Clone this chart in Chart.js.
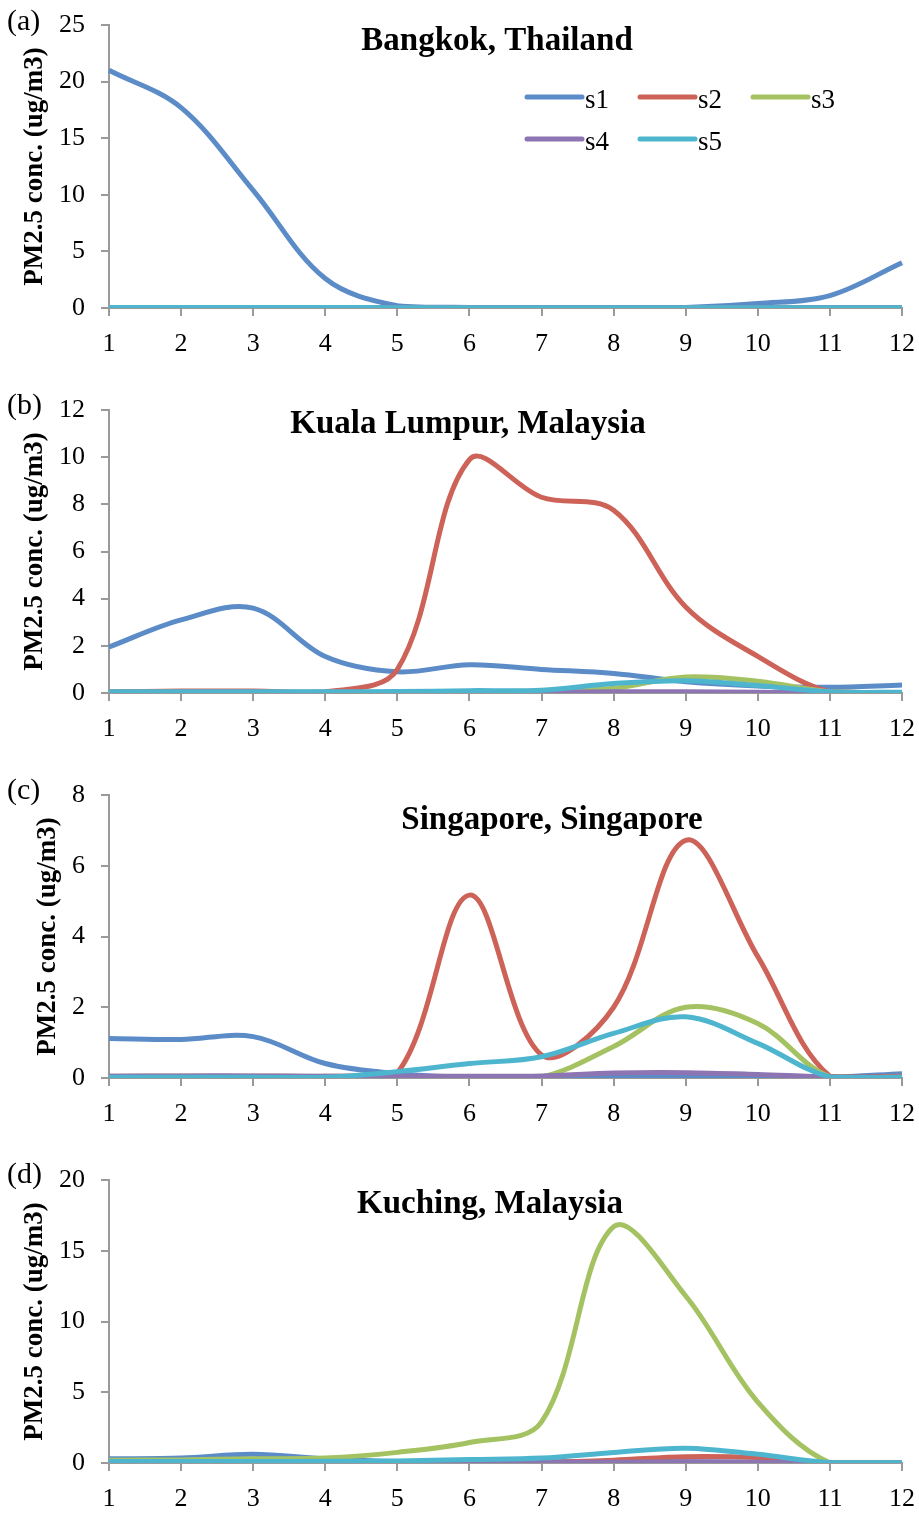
<!DOCTYPE html>
<html lang="en">
<head>
  <meta charset="UTF-8">
  <title>PM2.5 conc. by source</title>
  <script src="https://cdn.jsdelivr.net/npm/chart.js"></script>
  <style>
    body { margin: 0; background: #fff; }
    .panel { position: absolute; left: 0; width: 919px; height: 385px; }
  </style>
</head>
<body>
  <div class="panel" style="top:0px"><canvas id="c0" width="919" height="385"></canvas></div>
  <div class="panel" style="top:385px"><canvas id="c1" width="919" height="385"></canvas></div>
  <div class="panel" style="top:770px"><canvas id="c2" width="919" height="385"></canvas></div>
  <div class="panel" style="top:1155px"><canvas id="c3" width="919" height="385"></canvas></div>

  <script>
    // months on the x axis
    const months = [1, 2, 3, 4, 5, 6, 7, 8, 9, 10, 11, 12];
    const seriesNames = ['s1', 's2', 's3', 's4', 's5'];
    const seriesColors = ['#5B8CC8', '#CD6258', '#A5C262', '#8D74B2', '#4EB5CF'];

    // (a) Bangkok
    const bkkS1 = [21.0, 17.7, 10.4, 2.6, 0.2, 0.05, 0.05, 0.05, 0.05, 0.4, 1.1, 4.0];
    const bkkS2 = [0.05, 0.05, 0.05, 0.05, 0.03, 0.02, 0.02, 0.02, 0.02, 0.02, 0.02, 0.02];
    const bkkS3 = [0.02, 0.02, 0.02, 0.02, 0.02, 0.02, 0.02, 0.02, 0.02, 0.02, 0.02, 0.02];
    const bkkS4 = [0.02, 0.02, 0.02, 0.02, 0.02, 0.02, 0.02, 0.02, 0.02, 0.02, 0.02, 0.02];
    const bkkS5 = [0.05, 0.05, 0.05, 0.05, 0.03, 0.03, 0.03, 0.03, 0.03, 0.03, 0.03, 0.03];

    // (b) Kuala Lumpur
    const klS1 = [1.95, 3.1, 3.6, 1.55, 0.9, 1.2, 1.0, 0.83, 0.48, 0.3, 0.24, 0.34];
    const klS2 = [0.05, 0.08, 0.08, 0.05, 1.0, 9.9, 8.3, 7.75, 3.65, 1.55, 0.05, 0.02];
    const klS3 = [0.02, 0.02, 0.02, 0.02, 0.02, 0.05, 0.08, 0.2, 0.68, 0.5, 0.05, 0.02];
    const klS4 = [0.02, 0.02, 0.02, 0.02, 0.02, 0.02, 0.03, 0.05, 0.05, 0.03, 0.02, 0.02];
    const klS5 = [0.05, 0.05, 0.05, 0.05, 0.06, 0.1, 0.12, 0.4, 0.52, 0.32, 0.05, 0.03];

    // (c) Singapore
    const sgS1 = [1.12, 1.09, 1.17, 0.41, 0.12, 0.02, 0.02, 0.02, 0.02, 0.02, 0.02, 0.12];
    const sgS2 = [0.05, 0.05, 0.05, 0.05, 0.15, 5.17, 0.65, 2.0, 6.72, 3.43, 0.05, 0.05];
    const sgS3 = [0.02, 0.02, 0.02, 0.02, 0.02, 0.02, 0.03, 0.89, 2.0, 1.54, 0.03, 0.02];
    const sgS4 = [0.05, 0.06, 0.06, 0.05, 0.05, 0.05, 0.06, 0.14, 0.15, 0.1, 0.03, 0.02];
    const sgS5 = [0.02, 0.02, 0.02, 0.02, 0.18, 0.41, 0.6, 1.26, 1.73, 0.98, 0.03, 0.02];

    // (d) Kuching
    const kchS1 = [0.3, 0.35, 0.62, 0.3, 0.1, 0.08, 0.08, 0.08, 0.08, 0.05, 0.02, 0.02];
    const kchS2 = [0.02, 0.02, 0.02, 0.02, 0.02, 0.02, 0.05, 0.2, 0.45, 0.38, 0.02, 0.02];
    const kchS3 = [0.2, 0.22, 0.3, 0.35, 0.75, 1.45, 2.9, 16.7, 11.8, 4.3, 0.02, 0.02];
    const kchS4 = [0.03, 0.03, 0.03, 0.03, 0.03, 0.04, 0.05, 0.06, 0.08, 0.06, 0.02, 0.02];
    const kchS5 = [0.1, 0.1, 0.1, 0.12, 0.15, 0.25, 0.35, 0.75, 1.05, 0.62, 0.03, 0.02];

    const panelTags = ['(a)', '(b)', '(c)', '(d)'];
    const panelTitles = ['Bangkok, Thailand', 'Kuala Lumpur, Malaysia', 'Singapore, Singapore', 'Kuching, Malaysia'];
    const yMaxes = [25, 12, 8, 20];
    const ySteps = [5, 2, 2, 5];
    const panelSeries = [
      [bkkS1, bkkS2, bkkS3, bkkS4, bkkS5],
      [klS1, klS2, klS3, klS4, klS5],
      [sgS1, sgS2, sgS3, sgS4, sgS5],
      [kchS1, kchS2, kchS3, kchS4, kchS5]
    ];

    // where the text bits sit on each panel
    const layout = [
      { titleX: 497, titleY: 50, yTitlePad: 19, tagY: 22 },
      { titleX: 468, titleY: 48, yTitlePad: 19, tagY: 21 },
      { titleX: 552, titleY: 59, yTitlePad: 32, tagY: 21 },
      { titleX: 490, titleY: 58, yTitlePad: 19, tagY: 20 }
    ];

    const serif = "'Liberation Serif', 'Times New Roman', serif";
    const axisGray = '#9A9A9A';

    // draws tag, in-plot title and (optionally) the legend
    const panelText = {
      id: 'panelText',
      afterDraw(chart, args, opts) {
        const ctx = chart.ctx;
        ctx.save();
        ctx.fillStyle = '#000';
        ctx.textBaseline = 'middle';
        ctx.textAlign = 'left';
        ctx.font = '30px ' + serif;
        ctx.fillText(opts.tag, 7, opts.tagY);

        ctx.font = 'bold 33px ' + serif;
        ctx.textAlign = 'center';
        ctx.textBaseline = 'alphabetic';
        ctx.fillText(opts.title, opts.titleX, opts.titleY);

        if (opts.legend) {
          ctx.font = '27px ' + serif;
          ctx.textAlign = 'left';
          ctx.textBaseline = 'alphabetic';
          chart.data.datasets.forEach((ds, i) => {
            const col = i % 3, row = Math.floor(i / 3);
            const x = 527 + col * 113;
            const y = 97 + row * 42;
            ctx.strokeStyle = ds.borderColor;
            ctx.lineWidth = 5;
            ctx.lineCap = 'round';
            ctx.beginPath();
            ctx.moveTo(x, y);
            ctx.lineTo(x + 55, y);
            ctx.stroke();
            ctx.fillText(ds.label, x + 58, y + 11);
          });
        }
        ctx.restore();
      }
    };

    panelSeries.forEach((series, p) => {
      const ctx = document.getElementById('c' + p).getContext('2d');
      new Chart(ctx, {
        type: 'line',
        data: {
          labels: months,
          datasets: series.map((vals, i) => ({
            label: seriesNames[i],
            data: vals,
            borderColor: seriesColors[i],
            backgroundColor: seriesColors[i],
            borderWidth: 5,
            pointRadius: 0,
            tension: 0.35,
            borderJoinStyle: 'round',
            order: series.length - i, // later series drawn on top
            fill: false
          }))
        },
        options: {
          responsive: false,
          animation: false,
          layout: { padding: { top: 25, right: 17, left: 0, bottom: 0 } },
          plugins: {
            legend: { display: false },
            tooltip: { enabled: false },
            panelText: {
              tag: panelTags[p],
              title: panelTitles[p],
              legend: p === 0,
              ...layout[p]
            }
          },
          scales: {
            x: {
              offset: false,
              grid: { drawOnChartArea: false, drawTicks: true, tickLength: 8, color: axisGray, lineWidth: 2 },
              border: { color: axisGray, width: 2 },
              ticks: { color: '#000', font: { family: serif, size: 26 }, padding: 13, maxRotation: 0, autoSkip: false },
              afterFit(scale) {
                scale.height = 77;
                scale.paddingLeft = 0;
                scale.paddingRight = 0;
              }
            },
            y: {
              min: 0,
              max: yMaxes[p],
              grid: { drawOnChartArea: false, drawTicks: true, tickLength: 8, color: axisGray, lineWidth: 2 },
              border: { color: axisGray, width: 2 },
              ticks: { stepSize: ySteps[p], color: '#000', font: { family: serif, size: 26 }, padding: 16 },
              title: {
                display: true,
                text: 'PM2.5 conc. (ug/m3)',
                color: '#000',
                font: { family: serif, size: 27, weight: 'bold' },
                padding: { top: layout[p].yTitlePad, bottom: 0 }
              },
              afterFit(scale) {
                scale.width = 109;
                scale.paddingTop = 0;
                scale.paddingBottom = 0;
              }
            }
          }
        },
        plugins: [panelText]
      });
    });
  </script>
</body>
</html>
